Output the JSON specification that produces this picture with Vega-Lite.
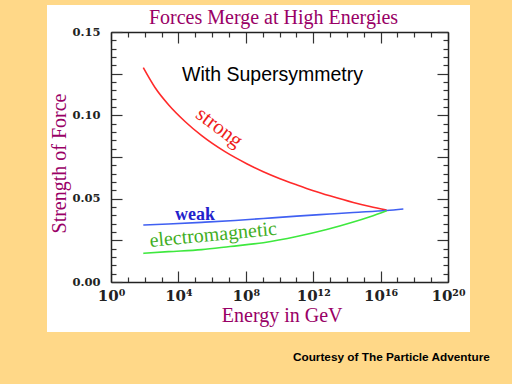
{
  "$schema": "https://vega.github.io/schema/vega-lite/v6.json",
  "width": 423,
  "height": 327,
  "autosize": "none",
  "padding": {"left": 47, "top": 5, "right": 42, "bottom": 52},
  "background": "#ffd888",
  "config": {
    "view": {"stroke": null, "fill": "#ffffff"},
    "axis": {
      "grid": false,
      "domainColor": "#222222",
      "domainWidth": 1.5,
      "tickColor": "#333333",
      "tickWidth": 1.2,
      "labelFont": "DejaVu Serif",
      "labelFontWeight": "bold",
      "labelColor": "#222222",
      "labelOverlap": false,
      "labelFlush": false,
      "labelBound": false,
      "titleFont": "Liberation Serif",
      "titleFontWeight": "normal",
      "titleColor": "#990066"
    }
  },
  "datasets": {
    "curves": [
      {"series": "strong", "energy": 82.6, "strength": 0.1286},
      {"series": "strong", "energy": 408, "strength": 0.1167},
      {"series": "strong", "energy": 2518, "strength": 0.1065},
      {"series": "strong", "energy": 24660, "strength": 0.0963},
      {"series": "strong", "energy": 241500, "strength": 0.0878},
      {"series": "strong", "energy": 5.83e6, "strength": 0.0782},
      {"series": "strong", "energy": 1.13e8, "strength": 0.071},
      {"series": "strong", "energy": 1.094e9, "strength": 0.0662},
      {"series": "strong", "energy": 1.07e10, "strength": 0.062},
      {"series": "strong", "energy": 1.05e11, "strength": 0.0583},
      {"series": "strong", "energy": 1.02e12, "strength": 0.0548},
      {"series": "strong", "energy": 9.77e12, "strength": 0.0517},
      {"series": "strong", "energy": 2.4e14, "strength": 0.0477},
      {"series": "strong", "energy": 2.34e15, "strength": 0.0453},
      {"series": "strong", "energy": 2.29e16, "strength": 0.0432},
      {"series": "weak", "energy": 82.6, "strength": 0.0342},
      {"series": "weak", "energy": 2512, "strength": 0.0348},
      {"series": "weak", "energy": 2.4e5, "strength": 0.0358},
      {"series": "weak", "energy": 2.29e7, "strength": 0.0369},
      {"series": "weak", "energy": 1.1e9, "strength": 0.0381},
      {"series": "weak", "energy": 1.05e11, "strength": 0.0395},
      {"series": "weak", "energy": 9.77e12, "strength": 0.0408},
      {"series": "weak", "energy": 2.4e14, "strength": 0.0417},
      {"series": "weak", "energy": 2.29e16, "strength": 0.0429},
      {"series": "weak", "energy": 2.24e17, "strength": 0.0438},
      {"series": "electromagnetic", "energy": 82.6, "strength": 0.0172},
      {"series": "electromagnetic", "energy": 2512, "strength": 0.0182},
      {"series": "electromagnetic", "energy": 2.4e5, "strength": 0.0194},
      {"series": "electromagnetic", "energy": 1.153e7, "strength": 0.0213},
      {"series": "electromagnetic", "energy": 1.1e9, "strength": 0.0236},
      {"series": "electromagnetic", "energy": 1.05e11, "strength": 0.0273},
      {"series": "electromagnetic", "energy": 6.31e12, "strength": 0.0315},
      {"series": "electromagnetic", "energy": 2.4e14, "strength": 0.036},
      {"series": "electromagnetic", "energy": 2.34e15, "strength": 0.0392},
      {"series": "electromagnetic", "energy": 2.29e16, "strength": 0.0428}
    ],
    "strongLabel": [{"label": "strong", "energy": 2.6e6, "strength": 0.0925}],
    "weakLabel": [{"label": "weak", "energy": 9.66e4, "strength": 0.0372}],
    "emLabel": [{"label": "electromagnetic", "energy": 1.25e6, "strength": 0.0247}],
    "note": [{"label": "With Supersymmetry", "energy": 3.85e9, "strength": 0.1208}]
  },
  "layer": [
    {
      "data": {"name": "curves"},
      "mark": {"type": "line", "strokeWidth": 1.6, "interpolate": "monotone"},
      "encoding": {
        "x": {
          "field": "energy", "type": "quantitative",
          "scale": {"type": "log", "domain": [1, 1e20], "range": [64, 401], "nice": false},
          "axis": {
            "orient": "bottom", "offset": -50,
            "values": [1, 10, 100, 1000, 10000, 1e5, 1e6, 1e7, 1e8, 1e9, 1e10, 1e11, 1e12, 1e13, 1e14, 1e15, 1e16, 1e17, 1e18, 1e19, 1e20],
            "tickSize": {"condition": {"test": "round(log(datum.value)/LN10) % 4 == 0", "value": -11}, "value": -5},
            "labelExpr": "round(log(datum.value)/LN10) == 0 ? '10⁰' : round(log(datum.value)/LN10) == 4 ? '10⁴' : round(log(datum.value)/LN10) == 8 ? '10⁸' : round(log(datum.value)/LN10) == 12 ? '10¹²' : round(log(datum.value)/LN10) == 16 ? '10¹⁶' : round(log(datum.value)/LN10) == 20 ? '10²⁰' : ''",
            "labelFontSize": 15,
            "labelPadding": 17,
            "title": "Energy in GeV",
            "titleFontSize": 20,
            "titleX": 234.7,
            "titleY": 39,
            "titleAlign": "center",
            "titleBaseline": "alphabetic"
          }
        },
        "y": {
          "field": "strength", "type": "quantitative",
          "scale": {"domain": [0, 0.15], "range": [277, 27], "nice": false, "zero": false},
          "axis": {
            "orient": "left", "offset": -64,
            "values": [0, 0.005, 0.01, 0.015, 0.02, 0.025, 0.03, 0.035, 0.04, 0.045, 0.05, 0.055, 0.06, 0.065, 0.07, 0.075, 0.08, 0.085, 0.09, 0.095, 0.1, 0.105, 0.11, 0.115, 0.12, 0.125, 0.13, 0.135, 0.14, 0.145, 0.15],
            "tickSize": {"condition": {"test": "abs(datum.value*40 - round(datum.value*40)) < 0.001", "value": -11}, "value": -5},
            "labelExpr": "abs(datum.value*20 - round(datum.value*20)) < 0.001 ? format(datum.value, '.2f') : ''",
            "labelFontSize": 11.5,
            "labelPadding": 22,
            "title": "Strength of Force",
            "titleFontSize": 20,
            "titleAngle": -90,
            "titleX": -45.3,
            "titleY": 158,
            "titleAlign": "center",
            "titleBaseline": "alphabetic"
          }
        },
        "color": {
          "field": "series", "type": "nominal",
          "scale": {"domain": ["strong", "weak", "electromagnetic"], "range": ["#ff2a2a", "#4060f2", "#3ee83e"]},
          "legend": null
        }
      }
    },
    {
      "data": {"name": "strongLabel"},
      "mark": {"type": "text", "angle": 37, "font": "Liberation Serif", "fontSize": 21, "color": "#ee1c1c", "align": "center", "baseline": "middle"},
      "encoding": {
        "x": {
          "field": "energy", "type": "quantitative",
          "scale": {"type": "log", "domain": [1, 1e20], "range": [64, 401], "nice": false},
          "axis": {
            "orient": "top", "offset": -27,
            "values": [1, 10, 100, 1000, 10000, 1e5, 1e6, 1e7, 1e8, 1e9, 1e10, 1e11, 1e12, 1e13, 1e14, 1e15, 1e16, 1e17, 1e18, 1e19, 1e20],
            "tickSize": {"condition": {"test": "round(log(datum.value)/LN10) % 4 == 0", "value": -11}, "value": -5},
            "labels": false,
            "title": "Forces Merge at High Energies",
            "titleFontSize": 20,
            "titleX": 226,
            "titleY": -8.7,
            "titleAlign": "center",
            "titleBaseline": "alphabetic"
          }
        },
        "y": {
          "field": "strength", "type": "quantitative",
          "scale": {"domain": [0, 0.15], "range": [277, 27], "nice": false, "zero": false},
          "axis": {
            "orient": "right", "offset": -22,
            "values": [0, 0.005, 0.01, 0.015, 0.02, 0.025, 0.03, 0.035, 0.04, 0.045, 0.05, 0.055, 0.06, 0.065, 0.07, 0.075, 0.08, 0.085, 0.09, 0.095, 0.1, 0.105, 0.11, 0.115, 0.12, 0.125, 0.13, 0.135, 0.14, 0.145, 0.15],
            "tickSize": {"condition": {"test": "abs(datum.value*40 - round(datum.value*40)) < 0.001", "value": -11}, "value": -5},
            "labels": false,
            "title": null
          }
        },
        "text": {"field": "label", "type": "nominal"}
      }
    },
    {
      "data": {"name": "weakLabel"},
      "mark": {"type": "text", "font": "Liberation Serif", "fontWeight": "bold", "fontSize": 18, "color": "#2222cc", "align": "center", "baseline": "alphabetic"},
      "encoding": {
        "x": {
          "field": "energy", "type": "quantitative",
          "scale": {"type": "log", "domain": [1, 1e20], "range": [64, 401], "nice": false},
          "axis": {
            "orient": "bottom", "offset": -50,
            "domain": false, "ticks": false, "labels": false,
            "values": [1],
            "title": "Courtesy of The Particle Adventure",
            "titleFont": "Liberation Sans",
            "titleFontSize": 11.8,
            "titleFontWeight": "bold",
            "titleColor": "#000000",
            "titleX": 442.3,
            "titleY": 78,
            "titleAlign": "right",
            "titleBaseline": "alphabetic"
          }
        },
        "y": {
          "field": "strength", "type": "quantitative",
          "scale": {"domain": [0, 0.15], "range": [277, 27], "nice": false, "zero": false},
          "axis": null
        },
        "text": {"field": "label", "type": "nominal"}
      }
    },
    {
      "data": {"name": "emLabel"},
      "mark": {"type": "text", "angle": -5.5, "font": "Liberation Serif", "fontSize": 20, "color": "#3fae23", "align": "center", "baseline": "alphabetic"},
      "encoding": {
        "x": {
          "field": "energy", "type": "quantitative",
          "scale": {"type": "log", "domain": [1, 1e20], "range": [64, 401], "nice": false},
          "axis": null
        },
        "y": {
          "field": "strength", "type": "quantitative",
          "scale": {"domain": [0, 0.15], "range": [277, 27], "nice": false, "zero": false},
          "axis": null
        },
        "text": {"field": "label", "type": "nominal"}
      }
    },
    {
      "data": {"name": "note"},
      "mark": {"type": "text", "font": "Liberation Sans", "fontSize": 19.5, "color": "#000000", "align": "center", "baseline": "alphabetic"},
      "encoding": {
        "x": {
          "field": "energy", "type": "quantitative",
          "scale": {"type": "log", "domain": [1, 1e20], "range": [64, 401], "nice": false},
          "axis": null
        },
        "y": {
          "field": "strength", "type": "quantitative",
          "scale": {"domain": [0, 0.15], "range": [277, 27], "nice": false, "zero": false},
          "axis": null
        },
        "text": {"field": "label", "type": "nominal"}
      }
    }
  ],
  "resolve": {"axis": {"x": "independent", "y": "independent"}}
}
